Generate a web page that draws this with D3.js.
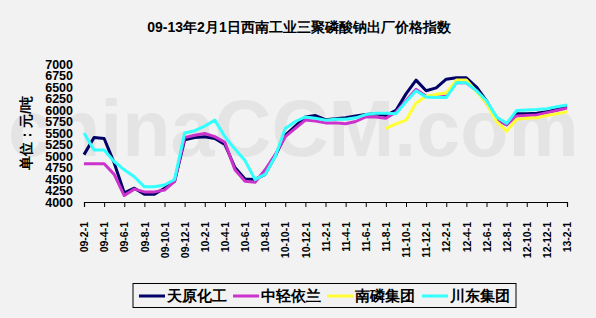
<!DOCTYPE html>
<html>
<head>
<meta charset="utf-8">
<script src="https://cdn.jsdelivr.net/npm/d3@7"></script>
<style>
  body { margin: 0; background: #f2f2f2; }
  svg { display: block; }
  text { font-family: "Liberation Sans", Arial, sans-serif; font-weight: bold; }
</style>
</head>
<body>
<script>
// months from 09-2-1 to 13-2-1
var months = d3.range(0, 49).map(function(i) {
  var y = 9 + Math.floor((i + 1) / 12);
  var m = (i + 1) % 12 + 1;
  return (y < 10 ? '0' + y : '' + y) + '-' + m + '-1';
});
var tickLabels = months.filter(function(d, i) { return i % 2 === 0; });

var yTicks = [4000, 4250, 4500, 4750, 5000, 5250, 5500, 5750, 6000, 6250, 6500, 6750, 7000];

var tianyuan = [5030, 5400, 5380, 4850, 4200, 4300, 4170, 4170, 4300, 4450,
  5350, 5400, 5420, 5380, 5250, 4750, 4500, 4490, 4600, 5000,
  5450, 5650, 5850, 5880, 5790, 5810, 5830, 5870, 5900, 5920,
  5880, 5990, 6350, 6650, 6420, 6480, 6670, 6700, 6700, 6500,
  6200, 5800, 5680, 5920, 5920, 5930, 5960, 6020, 6080];

var zhongqing = [4830, 4830, 4830, 4600, 4140, 4280, 4220, 4220, 4260, 4450,
  5400, 5450, 5490, 5420, 5300, 4700, 4450, 4430, 4700, 5030,
  5420, 5600, 5780, 5760, 5720, 5720, 5700, 5750, 5850, 5850,
  5820, 5950, 6200, 6450, 6300, 6280, 6300, 6590, 6590, 6420,
  6150, 5800, 5680, 5870, 5880, 5890, 5940, 5990, 6040];

var nanlin = [null, null, null, null, null, null, null, null, null, null,
  null, null, null, null, null, null, null, null, null, null,
  null, null, null, null, null, null, null, null, null, null,
  5600, 5700, 5780, 6150, 6300, 6340, 6370, 6650, 6650, 6400,
  6150, 5750, 5540, 5800, 5820, 5830, 5880, 5920, 5960];

var chuandong = [5500, 5130, 5130, 4880, 4700, 4550, 4330, 4330, 4370, 4490,
  5500, 5550, 5650, 5780, 5420, 5150, 4900, 4490, 4600, 4990,
  5600, 5750, 5850, 5820, 5780, 5800, 5800, 5830, 5900, 5930,
  5930, 5920, 6180, 6420, 6280, 6270, 6270, 6590, 6590, 6420,
  6200, 5850, 5710, 5990, 6000, 6010, 6030, 6070, 6110];

var seriesNames = ['天原化工', '中轻依兰', '南磷集团', '川东集团'];
var seriesColors = ['#000066', '#cc33cc', '#ffff33', '#33ffff'];
var seriesData = [tianyuan, zhongqing, nanlin, chuandong];

var width = 596;
var height = 318;
var margin = { left: 84, right: 29, top: 64, bottom: 116 };

var svg = d3.select('body').append('svg')
  .attr('width', width)
  .attr('height', height);

svg.append('rect')
  .attr('width', width)
  .attr('height', height)
  .attr('fill', '#f2f2f2');

// faint watermark behind the plot
svg.append('text')
  .attr('x', 8)
  .attr('y', 156)
  .attr('font-size', 79)
  .attr('fill', '#e4e4e4')
  .text('chinaCCM.com');

svg.append('text')
  .attr('x', 299)
  .attr('y', 32)
  .attr('text-anchor', 'middle')
  .attr('font-size', 14)
  .attr('fill', '#000')
  .text('09-13年2月1日西南工业三聚磷酸钠出厂价格指数');

var xScale = d3.scalePoint()
  .domain(months)
  .range([margin.left, width - margin.right]);

var yScale = d3.scaleLinear()
  .domain([4000, 7000])
  .range([height - margin.bottom, margin.top]);

// y axis: labels only, no line
var yAxis = svg.append('g')
  .attr('transform', 'translate(' + margin.left + ',0)')
  .call(d3.axisLeft(yScale).tickValues(yTicks).tickFormat(d3.format('d'))
    .tickSize(0).tickPadding(11));
yAxis.select('.domain').remove();
yAxis.selectAll('text')
  .attr('font-size', 12.5)
  .attr('font-family', '"Liberation Sans", Arial, sans-serif')
  .attr('font-weight', 'bold')
  .attr('fill', '#000');

svg.append('text')
  .attr('transform', 'translate(31,133) rotate(-90)')
  .attr('text-anchor', 'middle')
  .attr('font-size', 14)
  .attr('fill', '#000')
  .text('单位：元/吨');

// x axis
var xAxis = svg.append('g')
  .attr('transform', 'translate(0,' + (height - margin.bottom) + ')')
  .call(d3.axisBottom(xScale).tickValues(tickLabels).tickSize(5).tickPadding(8));
xAxis.select('.domain').attr('stroke', '#000').attr('stroke-width', 1.2);
xAxis.selectAll('line').attr('stroke', '#000');
xAxis.selectAll('text')
  .attr('font-size', 10.5)
  .attr('font-family', '"Liberation Sans", Arial, sans-serif')
  .attr('font-weight', 'bold')
  .attr('fill', '#000')
  .attr('text-anchor', 'end')
  .attr('dy', '0.35em')
  .attr('transform', 'translate(0,13) rotate(-90)')
  .attr('x', -7)
  .attr('y', 0);

var line = d3.line()
  .defined(function(d) { return d !== null; })
  .x(function(d, i) { return xScale(months[i]); })
  .y(function(d) { return yScale(d); });

seriesData.forEach(function(s, k) {
  svg.append('path')
    .datum(s)
    .attr('fill', 'none')
    .attr('stroke', seriesColors[k])
    .attr('stroke-width', 3)
    .attr('stroke-linejoin', 'round')
    .attr('d', line);
});

// legend
var legend = svg.append('g');
legend.append('rect')
  .attr('x', 133)
  .attr('y', 283.5)
  .attr('width', 383)
  .attr('height', 24)
  .attr('fill', '#f2f2f2')
  .attr('stroke', '#000')
  .attr('stroke-width', 1);

var legendX = [139, 233, 327, 422];
seriesNames.forEach(function(name, k) {
  legend.append('line')
    .attr('x1', legendX[k])
    .attr('x2', legendX[k] + 26)
    .attr('y1', 296)
    .attr('y2', 296)
    .attr('stroke', seriesColors[k])
    .attr('stroke-width', 3);
  legend.append('text')
    .attr('x', legendX[k] + 28)
    .attr('y', 301)
    .attr('font-size', 15)
    .attr('fill', '#000')
    .text(name);
});
</script>
</body>
</html>
